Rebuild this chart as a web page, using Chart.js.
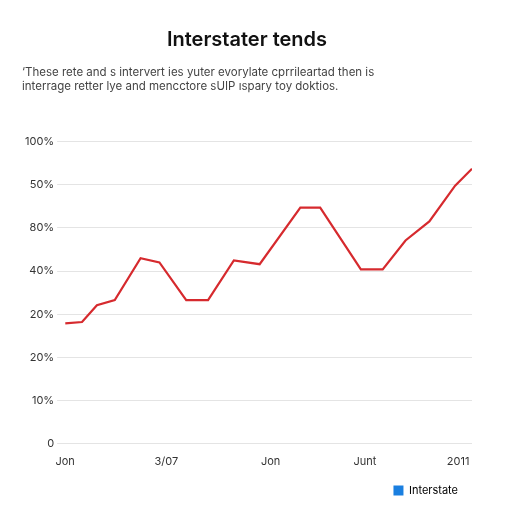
<!DOCTYPE html>
<html><head><script src="https://cdn.jsdelivr.net/npm/chart.js"></script>
<style>html,body{margin:0;background:#fff;}#w{width:512px;height:512px;}</style></head>
<body><div id="w"><canvas id="c" width="512" height="512"></canvas></div>
<script>
const xValues=[0,17,32,50,76,95,122,144,170,196,237,257,298,320,343,367,393,410];
const seriesValues=[27.9,28.2,32.1,33.3,43,42,33.3,33.3,42.5,41.6,54.7,54.7,40.4,40.4,47.1,51.5,59.8,63.7];
const xTickPos=[0,102,207,302,396];
const xTickLabels=['Jon','3/07','Jon','Junt','2011'];
const yTickLabels=['0','10%','20%','20%','40%','80%','50%','100%'];
new Chart(document.getElementById('c'),{
type:'line',
data:{datasets:[{label:'Interstate',data:xValues.map((x,i)=>({x,y:seriesValues[i]})),borderColor:'#d62a2e',backgroundColor:'#1a7fe0',borderWidth:2.2,pointRadius:0,tension:0}]},
options:{responsive:false,animation:false,
layout:{padding:{left:22,right:40,top:0,bottom:6}},
plugins:{
title:{display:true,text:'Interstater tends',color:'#111',font:{family:'Inter',size:20,weight:'600'},padding:{top:28,bottom:14}},
subtitle:{display:true,align:'start',text:['\u2018These rete and s intervert ies yuter evorylate cprrileartad then is','interrage retter lye and mencctore sUIP ıspary toy doktios.'],color:'#444',font:{family:'Inter',size:11.5},padding:{left:10,bottom:48}},
legend:{position:'bottom',align:'end',labels:{padding:14,boxWidth:10,boxHeight:10,color:'#1a7fe0',font:{family:'Inter',size:11},generateLabels:(ch)=>[{text:'Interstate',fillStyle:'#1a7fe0',strokeStyle:'#1a7fe0',lineWidth:0}]}}
},
scales:{
x:{type:'linear',min:0,max:410,grid:{display:false},border:{display:false},
afterBuildTicks:a=>{a.ticks=xTickPos.map(v=>({value:v}));},
ticks:{callback:(v,i)=>xTickLabels[i],color:'#333',font:{family:'Inter',size:11},maxRotation:0,autoSkip:false}},
y:{min:0,max:70,grid:{color:'#e4e4e4'},border:{display:false},
ticks:{stepSize:10,callback:(v)=>yTickLabels[Math.round(v/10)],color:'#333',font:{family:'Inter',size:11}}}
}}});
</script></body></html>
